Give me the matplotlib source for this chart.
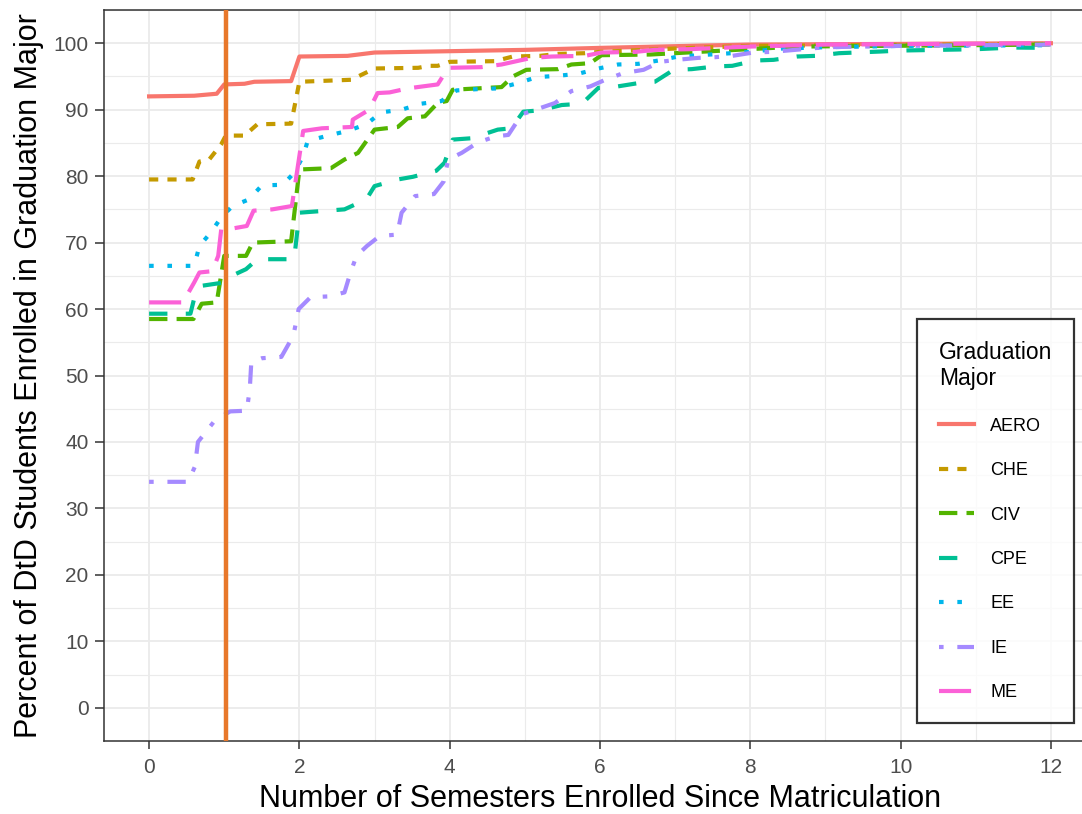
import matplotlib
matplotlib.use("Agg")
import matplotlib.pyplot as plt
from matplotlib.ticker import MultipleLocator

plt.rcParams["font.family"] = ["Liberation Sans", "DejaVu Sans"]

# =========================
# DATA
# =========================
majors = ["AERO", "CHE", "CIV", "CPE", "EE", "IE", "ME"]

aero_x = [0, 0.6, 0.9, 1.0, 1.27, 1.4, 1.89, 2.0, 2.64, 3.0, 4.0, 5.0, 6.0, 7.36, 8.0, 12]
aero_y = [92.0, 92.1, 92.4, 93.8, 93.9, 94.2, 94.3, 98.0, 98.1, 98.6, 98.8, 99.0, 99.3, 99.65, 99.8, 100]

che_x = [0, 0.58, 0.67, 0.8, 0.96, 1.02, 1.27, 1.44, 1.89, 2.0, 2.69, 3.0, 3.58, 3.73, 3.84,
         4.0, 4.6, 4.84, 5.2, 5.44, 5.8, 6.0, 7.0, 8.0, 12]
che_y = [79.5, 79.5, 82.2, 82.5, 84.8, 86.1, 86.1, 87.8, 87.9, 94.2, 94.5, 96.2, 96.3, 96.6, 96.6,
         97.2, 97.3, 98.0, 98.1, 98.4, 98.5, 98.7, 99.2, 99.6, 99.9]

civ_x = [0, 0.59, 0.7, 0.9, 1.0, 1.29, 1.38, 1.89, 2.0, 2.42, 2.6, 2.78, 3.0, 3.31, 3.44, 3.67,
         3.84, 3.96, 4.04, 4.69, 4.84, 5.02, 5.44, 5.62, 5.87, 6.02, 6.67, 7.4, 8.64, 12]
civ_y = [58.5, 58.5, 60.8, 61.0, 68.0, 68.0, 70.0, 70.2, 81.0, 81.2, 82.5, 83.5, 87.0, 87.4, 88.7, 89.0,
         91.0, 91.3, 93.0, 93.4, 95.0, 96.0, 96.1, 96.8, 97.0, 98.2, 98.3, 98.75, 99.5, 99.8]

cpe_x = [0, 0.55, 0.62, 0.7, 1.0, 1.1, 1.29, 1.44, 1.93, 2.0, 2.6, 2.89, 3.0, 3.31, 3.51, 3.82,
         3.93, 4.04, 4.29, 4.64, 4.82, 4.98, 5.2, 5.49, 5.76, 5.98, 6.18, 6.51, 6.73, 6.98, 7.22,
         7.53, 7.76, 8.07, 8.31, 8.62, 8.87, 9.18, 9.4, 9.73, 10.0, 10.5, 11.0, 11.5, 12]
cpe_y = [59.3, 59.3, 62.5, 63.5, 64.0, 65.0, 66.0, 67.5, 67.5, 74.5, 75.0, 76.5, 78.5, 79.5, 79.9, 80.8,
         82.0, 85.5, 85.7, 87.0, 87.2, 89.7, 89.9, 90.7, 90.9, 93.3, 93.4, 94.0, 94.2, 96.0, 96.1,
         96.5, 96.6, 97.4, 97.5, 98.0, 98.1, 98.5, 98.6, 98.75, 98.9, 99.0, 99.1, 99.35, 99.3]

ee_x = [0, 0.6, 0.67, 0.82, 0.96, 1.11, 1.33, 1.5, 1.78, 1.93, 2.05, 2.11, 2.38, 2.64, 2.89, 3.09,
        3.36, 3.62, 3.89, 4.09, 4.38, 4.64, 4.91, 5.16, 5.44, 5.71, 5.98, 6.24, 6.51, 6.78, 7.04,
        7.89, 8.42, 9.0, 10.0, 12]
ee_y = [66.5, 66.5, 69.5, 71.5, 73.8, 75.5, 76.5, 78.6, 78.7, 80.5, 83.0, 85.3, 86.1, 86.8, 87.8, 89.6,
        90.0, 90.9, 91.3, 92.9, 93.1, 93.2, 94.0, 94.9, 95.1, 95.4, 96.2, 96.8, 96.9, 97.4, 98.0,
        98.6, 99.2, 99.4, 99.6, 99.7]

ie_x = [0, 0.52, 0.61, 0.65, 0.88, 1.08, 1.3, 1.34, 1.36, 1.5, 1.76, 1.92, 1.99, 2.15, 2.39, 2.6,
        2.68, 2.76, 2.9, 3.07, 3.3, 3.36, 3.54, 3.79, 3.92, 3.98, 4.16, 4.38, 4.62, 4.78, 4.96,
        5.4, 5.62, 5.87, 6.07, 6.31, 6.58, 6.8, 7.02, 7.31, 7.53, 7.76, 8.04, 8.29, 9.0, 10.0, 12]
ie_y = [34.0, 34.0, 36.3, 40.0, 43.3, 44.6, 44.7, 48.0, 52.0, 52.6, 52.8, 56.0, 60.0, 61.8, 61.9, 62.5,
        65.5, 68.0, 69.5, 71.0, 71.2, 74.5, 77.0, 77.3, 79.2, 82.5, 83.5, 85.1, 86.0, 86.2, 89.3,
        91.0, 92.8, 93.5, 94.5, 95.5, 96.0, 97.2, 97.5, 97.8, 97.9, 98.1, 98.6, 98.7, 99.4, 99.6, 99.8]

me_x = [0, 0.45, 0.6, 0.67, 0.84, 0.92, 0.96, 1.05, 1.3, 1.39, 1.64, 1.9, 2.05, 2.3, 2.7, 2.71,
        2.93, 3.04, 3.2, 3.44, 3.84, 3.98, 4.42, 4.69, 5.09, 5.36, 5.8, 6.02, 6.47, 6.73, 7.18,
        8.0, 9.0, 12]
me_y = [61.0, 61.0, 64.0, 65.5, 65.7, 68.0, 72.0, 72.0, 72.5, 74.8, 75.0, 75.5, 86.8, 87.2, 87.4, 88.5,
        90.0, 92.5, 92.6, 93.2, 93.8, 96.3, 96.4, 96.8, 97.8, 98.0, 98.1, 98.6, 98.7, 99.0, 99.1,
        99.5, 99.8, 100]

series_x = [aero_x, che_x, civ_x, cpe_x, ee_x, ie_x, me_x]
series_y = [aero_y, che_y, civ_y, cpe_y, ee_y, ie_y, me_y]

cutoff_semester = 1.02

# ggplot default hue colours and linetypes
colors = ["#F8766D", "#C49A00", "#53B400", "#00C094", "#00B6EB", "#A58AFF", "#FB61D7"]
dash_patterns = [None, (2, 2), (4, 2), (4, 4), (1, 3), (1, 3, 4, 3), (7, 3)]

# =========================
# PLOT
# =========================
W, H = 1082, 814
fig = plt.figure(figsize=(W / 100, H / 100), dpi=100)
ax = fig.add_axes([104 / W, 1 - 741 / H, (1096 - 104) / W, (741 - 10) / H])

for name, xs, ys, c, d in zip(majors, series_x, series_y, colors, dash_patterns):
    if d is None:
        ls = "solid"
    else:
        ls = (0, tuple(v * 1.1 for v in d))
    ax.plot(xs, ys, color=c, lw=3.0, linestyle=ls, label=name,
            dash_capstyle="butt", solid_joinstyle="round", zorder=3)

ax.axvline(cutoff_semester, color="#E8782A", lw=3.2, zorder=4)

ax.set_xlim(-0.6, 12.6)
ax.set_ylim(-5, 105)
ax.xaxis.set_major_locator(MultipleLocator(2))
ax.xaxis.set_minor_locator(MultipleLocator(1))
ax.yaxis.set_major_locator(MultipleLocator(10))
ax.yaxis.set_minor_locator(MultipleLocator(5))

ax.grid(which="major", color="#EBEBEB", lw=1.3, zorder=0)
ax.grid(which="minor", color="#EBEBEB", lw=0.8, zorder=0)
ax.set_axisbelow(True)
for s in ax.spines.values():
    s.set_color("#333333")
    s.set_linewidth(1.1)
ax.spines["right"].set_visible(False)
ax.tick_params(which="major", width=1.1, color="#333333",
               labelsize=15, labelcolor="#4D4D4D")
ax.tick_params(axis="x", which="major", length=6, pad=6)
ax.tick_params(axis="y", which="major", length=6.5, pad=4.5)
ax.tick_params(which="minor", length=0)

ax.set_xlabel("Number of Semesters Enrolled Since Matriculation", fontsize=22, labelpad=5)
ax.set_ylabel("Percent of DtD Students Enrolled in Graduation Major", fontsize=22, labelpad=7)

leg = ax.legend(title="Graduation\nMajor", loc="lower left",
                bbox_to_anchor=(917 / W, 1 - 723 / H), bbox_transform=fig.transFigure,
                fontsize=13, title_fontsize=16.5, frameon=True, fancybox=False,
                handlelength=1.95, handletextpad=0.9, labelspacing=1.52,
                borderpad=1.2, borderaxespad=0, alignment="left")
leg.get_frame().set_edgecolor("black")
leg.get_frame().set_linewidth(1.6)

fig.savefig("out.png", dpi=100)
